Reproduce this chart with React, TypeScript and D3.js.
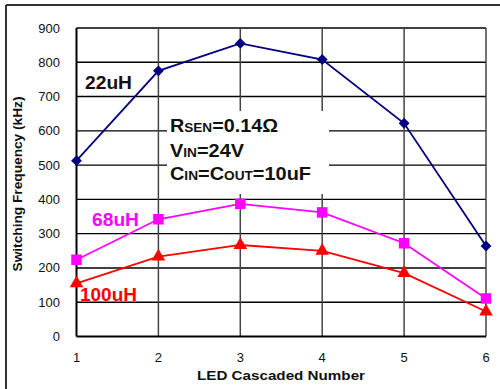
import React from "react";
import * as d3 from "d3";

const ledCounts = [1, 2, 3, 4, 5, 6];
const yTicks = [0, 100, 200, 300, 400, 500, 600, 700, 800, 900];
const freq22uH = [513, 775, 855, 808, 622, 264];
const freq68uH = [224, 342, 387, 362, 272, 111];
const freq100uH = [155, 233, 267, 250, 185, 73];

const FONT = "'Liberation Sans', Arial, sans-serif";

export default function App() {
  const x = d3.scaleLinear().domain([1, 6]).range([76.5, 486]);
  const y = d3.scaleLinear().domain([0, 900]).range([336.5, 28]);
  const line = d3
    .line<number>()
    .x((_, i) => x(ledCounts[i]))
    .y((d) => y(d));

  const diamond = d3.symbol().type(d3.symbolDiamond2).size(75)();
  const square = d3.symbol().type(d3.symbolSquare).size(110)();
  const triangle = d3.symbol().type(d3.symbolTriangle).size(80)();

  const series = [
    { data: freq22uH, color: "#000080", path: diamond },
    { data: freq68uH, color: "#FF00FF", path: square },
    { data: freq100uH, color: "#FF0000", path: triangle },
  ];

  const [x0, x1] = x.range();
  const [y0, y1] = y.range();

  return (
    <svg
      width={500}
      height={389}
      style={{ position: "absolute", left: 0, top: 0, background: "#fff" }}
      fontFamily={FONT}
    >
      {/* outer border */}
      <line x1={6} y1={5} x2={500} y2={5} stroke="#333" strokeWidth={2} />
      <line x1={6} y1={5} x2={6} y2={389} stroke="#333" strokeWidth={2} />

      {/* horizontal gridlines */}
      {yTicks.slice(1).map((t) => (
        <line key={"h" + t} x1={x0} x2={x1} y1={y(t)} y2={y(t)} stroke="#000" strokeWidth={1.4} />
      ))}
      {/* vertical gridlines */}
      {ledCounts.slice(1).map((c) => (
        <line key={"v" + c} x1={x(c)} x2={x(c)} y1={y1} y2={y0} stroke="#444" strokeWidth={1.5} />
      ))}
      {/* axes */}
      <line x1={x0} x2={x0} y1={y1} y2={y0} stroke="#000" strokeWidth={2} />
      <line x1={x0} x2={x1} y1={y0} y2={y0} stroke="#000" strokeWidth={2} />

      {/* y tick labels */}
      {yTicks.map((t) => (
        <text key={"yt" + t} x={60} y={y(t) + 4.5} textAnchor="end" fontSize={13} fill="#111">
          {t}
        </text>
      ))}
      {/* x tick labels */}
      {ledCounts.map((c) => (
        <text key={"xt" + c} x={x(c)} y={362} textAnchor="middle" fontSize={13} fill="#111">
          {c}
        </text>
      ))}

      {/* axis titles */}
      <text
        x={281}
        y={380}
        textAnchor="middle"
        fontSize={12.5}
        fontWeight="bold"
        fill="#111"
        textLength={168}
        lengthAdjust="spacingAndGlyphs"
      >
        LED Cascaded Number
      </text>
      <text
        transform="translate(22,184) rotate(-90)"
        textAnchor="middle"
        fontSize={12.5}
        fontWeight="bold"
        fill="#111"
        textLength={175}
        lengthAdjust="spacingAndGlyphs"
      >
        Switching Frequency (kHz)
      </text>

      {/* series */}
      {series.map((s, si) => (
        <g key={"s" + si}>
          <path d={line(s.data) || ""} fill="none" stroke={s.color} strokeWidth={1.8} />
          {s.data.map((v, i) => (
            <path
              key={i}
              d={s.path || ""}
              transform={`translate(${x(ledCounts[i])},${y(v)})`}
              fill={s.color}
            />
          ))}
        </g>
      ))}

      {/* annotation box */}
      <rect x={167} y={111} width={162} height={83} fill="#fff" />
      <g fontWeight="bold" fill="#111" fontSize={17.5}>
        <text x={170} y={131.5} textLength={108} lengthAdjust="spacingAndGlyphs">
          R<tspan fontSize={12}>SEN</tspan>=0.14Ω
        </text>
        <text x={170} y={156.5} textLength={74} lengthAdjust="spacingAndGlyphs">
          V<tspan fontSize={12}>IN</tspan>=24V
        </text>
        <text x={170} y={180} textLength={141} lengthAdjust="spacingAndGlyphs">
          C<tspan fontSize={12}>IN</tspan>=C<tspan fontSize={12}>OUT</tspan>=10uF
        </text>
      </g>

      {/* series labels */}
      <text x={85} y={89} fontSize={17.5} fontWeight="bold" fill="#111" textLength={47} lengthAdjust="spacingAndGlyphs">
        22uH
      </text>
      <text x={92} y={225.5} fontSize={17.5} fontWeight="bold" fill="#FF00FF" textLength={47} lengthAdjust="spacingAndGlyphs">
        68uH
      </text>
      <text x={80} y={300.5} fontSize={17.5} fontWeight="bold" fill="#FF0000" textLength={57} lengthAdjust="spacingAndGlyphs">
        100uH
      </text>
    </svg>
  );
}
